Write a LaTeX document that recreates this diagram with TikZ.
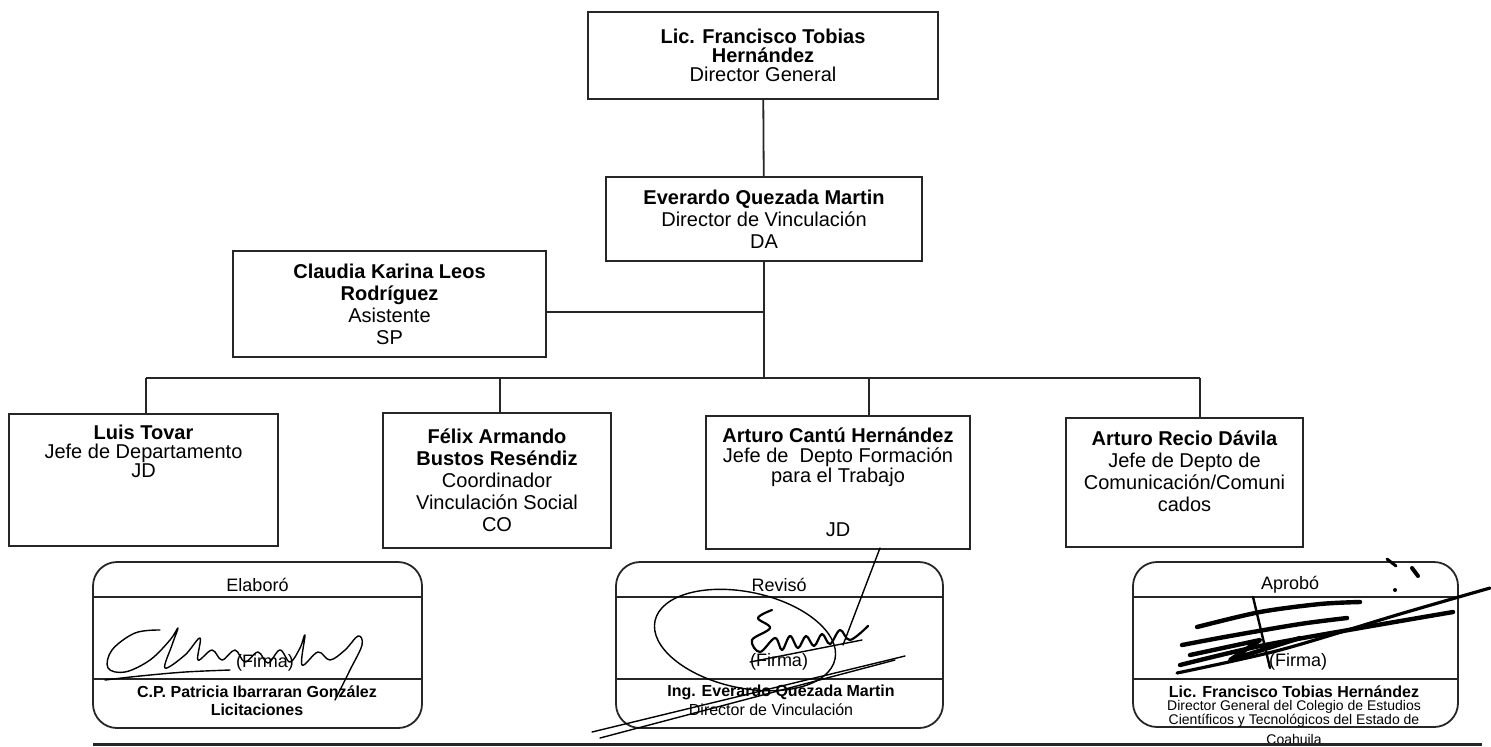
\documentclass[tikz,border=0pt]{standalone}
\usepackage{fontspec}
\setmainfont{Liberation Sans}
\begin{document}
\begin{tikzpicture}[x=0.5pt,y=-0.5pt,
  box/.style={draw=black!85, line width=0.9pt, inner sep=0pt, outer sep=0pt, align=center, font=\fontsize{10}{10.5}\selectfont},
  sigbox/.style={draw=black!85, line width=0.9pt, rounded corners=12pt, inner sep=0pt, outer sep=0pt},
  link/.style={draw=black!85, line width=0.9pt},
  sig/.style={line width=0.7pt, black, line cap=round, line join=round},
  heavy/.style={line width=2.2pt, black, line cap=round, line join=round},
  sigt/.style={font=\fontsize{9}{10}\selectfont, inner sep=0pt},
  sign/.style={font=\fontsize{8}{9}\selectfont\bfseries, inner sep=0pt},
  sigr/.style={font=\fontsize{8}{9}\selectfont, inner sep=0pt},
  sigs/.style={font=\fontsize{7}{7.5}\selectfont, inner sep=0pt},
]
\useasboundingbox (0,0) rectangle (1491,746);

% org boxes
\node[box, minimum width=175pt, minimum height=43.5pt, font=\fontsize{10}{9.5}\selectfont] (dg) at (763,55.5)
  {\textbf{Lic. Francisco Tobias}\\\textbf{Hernández}\\Director General};
\node[box, minimum width=158pt, minimum height=42pt, font=\fontsize{10}{11}\selectfont] (dv) at (764,219)
  {\textbf{Everardo Quezada Martin}\\Director de Vinculación\\DA};
\node[box, minimum width=156.5pt, minimum height=53pt, font=\fontsize{10}{11}\selectfont] (as) at (389.5,304)
  {\textbf{Claudia Karina Leos}\\\textbf{Rodríguez}\\Asistente\\SP};
\node[box, minimum width=134.5pt, minimum height=66pt, font=\fontsize{10}{9.5}\selectfont] (lt) at (143.5,480)
  {\textbf{Luis Tovar}\\Jefe de Departamento\\JD\\~\\~\\~};
\node[box, minimum width=114pt, minimum height=67.5pt, font=\fontsize{10}{11}\selectfont] (fa) at (497,480.5)
  {\textbf{Félix Armando}\\\textbf{Bustos Reséndiz}\\Coordinador\\Vinculación Social\\CO};
\node[box, minimum width=132pt, minimum height=66.5pt, font=\fontsize{10}{10}\selectfont] (ac) at (838,482.5)
  {\textbf{Arturo Cantú Hernández}\\Jefe de\ \ Depto Formación\\para el Trabajo\\[17pt]JD};
\node[box, minimum width=118.5pt, minimum height=64.5pt, font=\fontsize{10}{11}\selectfont] (ar) at (1184.5,482.5)
  {\textbf{Arturo Recio Dávila}\\Jefe de Depto de\\Comunicación/Comuni\\cados\\~};

% connectors
\coordinate (asj) at (764,312);
\coordinate (b1) at (146,378);
\coordinate (b2) at (500,378);
\coordinate (bm) at (764,378);
\coordinate (b3) at (869,378);
\coordinate (b4) at (1200,378);
\draw[link] (dg) -- (dv);
\draw[link] (dv.south) -- (bm);
\draw[link] (as.east |- asj) -- (asj);
\draw[link] (b1) -- (b4);
\draw[link] (b1) -- (b1 |- lt.north);
\draw[link] (b2) -- (b2 |- fa.north);
\draw[link] (b3) -- (b3 |- ac.north);
\draw[link] (b4) -- (b4 |- ar.north);

% signature boxes
\node[sigbox, minimum width=164.5pt, minimum height=83pt] (sg1) at (257.5,645) {};
\node[sigbox, minimum width=163.5pt, minimum height=83pt] (sg2) at (779.5,645) {};
\node[sigbox, minimum width=162.5pt, minimum height=82.5pt] (sg3) at (1295.5,644.5) {};
\foreach \s in {sg1,sg2,sg3}{
  \draw[link] (\s.west |- 0,597) -- (\s.east |- 0,597);
  \draw[link] (\s.west |- 0,679) -- (\s.east |- 0,679);
}

% signature texts
\node[sigt] (t1a) at (257.5,585) {Elaboró};
\node[sigt] (t1b) at (265,663) {(Firma)};
\node[sign] (t1c) at (257,692) {C.P. Patricia Ibarraran González};
\node[sign] (t1d) at (257,710) {Licitaciones};

\node[sigt] (t2a) at (779,585) {Revisó};
\node[sigt] (t2b) at (779,662) {(Firma)};
\node[sign] (t2c) at (781,692) {Ing. Everardo Quezada Martin};
\node[sigr] (t2d) at (771,710) {Director de Vinculación};

\node[sigt] (t3a) at (1290,585) {Aprobó};
\node[sigt] (t3b) at (1298,662) {(Firma)};
\node[sign] (t3c) at (1294,692) {Lic. Francisco Tobias Hernández};
\node[sigs] (t3d) at (1294,707) {Director General del Colegio de Estudios};
\node[sigs] (t3e) at (1294,721) {Científicos y Tecnológicos del Estado de};
\node[sigs] (t3f) at (1294,739) {Coahuila};

% bottom rule
\draw[line width=1.5pt, black!85] (93,744) -- (1482,744);

% signature 1
\draw[sig] plot[smooth, tension=0.6] coordinates {(160,630) (135,633) (112,650) (108,668) (125,672) (150,660) (170,640) (178,628) (172,645) (165,668) (185,655) (200,638) (198,660) (212,650) (222,660) (235,650) (245,662) (258,652) (268,663) (280,650) (290,662) (300,648) (305,635) (302,665) (318,652) (330,660) (345,650) (358,636) (362,645) (350,670) (335,700)};
\draw[sig] plot[smooth, tension=0.6] coordinates {(105,680) (140,676) (185,672) (230,670)};

% signature 2
\draw[sig] (880,548) -- (843,645);
\draw[sig, rotate around={-12:(745,640)}] (745,640) ellipse [x radius=92, y radius=48];
\draw[sig] (592,732) -- (905,656);
\draw[sig] (600,738) -- (895,660);
\draw[sig, line width=1.1pt] plot[smooth, tension=0.6] coordinates {(772,610) (758,618) (770,628) (752,640) (760,652) (775,638) (782,650) (790,636) (798,648) (806,636) (814,646) (822,634) (830,644) (840,630) (850,640) (868,626)};
\draw[sig] (750,662) -- (862,640);

% signature 3
\draw[heavy] plot[smooth, tension=0.5] coordinates {(1197,627) (1260,612) (1320,604) (1360,602)};
\draw[heavy] plot[smooth, tension=0.5] coordinates {(1182,645) (1230,636) (1300,624) (1347,618)};
\draw[heavy] plot[smooth, tension=0.5] coordinates {(1180,665) (1260,646) (1360,628) (1453,612)};
\draw[heavy, line width=1.6pt] plot[smooth, tension=0.5] coordinates {(1177,673) (1280,650) (1400,614) (1490,588)};
\draw[heavy] (1190,655) -- (1260,640) -- (1230,660) -- (1300,638);
\draw[heavy, line width=1.2pt] (1253,597) -- (1270,668);
\draw[heavy, line width=1.5pt] (1387,559) -- (1396,566);
\draw[heavy, line width=2pt] (1412,568) -- (1418,576);
\fill[black] (1395,590) circle (2);
\end{tikzpicture}
\end{document}
